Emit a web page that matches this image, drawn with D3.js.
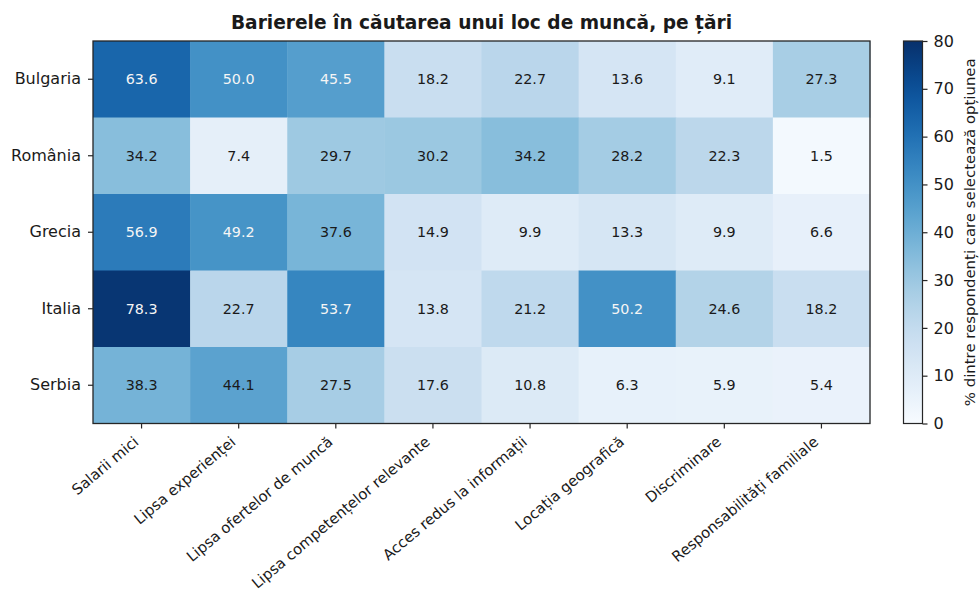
<!DOCTYPE html>
<html>
<head>
<meta charset="utf-8">
<script src="https://cdn.jsdelivr.net/npm/d3@7"></script>
<style>
  body { margin: 0; background: #fff; }
  text { font-family: "DejaVu Sans", sans-serif; fill: #1a1a1a; }
</style>
</head>
<body>
<svg id="chart" width="979" height="591"></svg>
<script>
const countries = ['Bulgaria', 'România', 'Grecia', 'Italia', 'Serbia']
const barriers = [
  'Salarii mici',
  'Lipsa experienței',
  'Lipsa ofertelor de muncă',
  'Lipsa competențelor relevante',
  'Acces redus la informații',
  'Locația geografică',
  'Discriminare',
  'Responsabilități familiale'
]
const bulgaria = [63.6, 50.0, 45.5, 18.2, 22.7, 13.6, 9.1, 27.3]
const romania = [34.2, 7.4, 29.7, 30.2, 34.2, 28.2, 22.3, 1.5]
const grecia = [56.9, 49.2, 37.6, 14.9, 9.9, 13.3, 9.9, 6.6]
const italia = [78.3, 22.7, 53.7, 13.8, 21.2, 50.2, 24.6, 18.2]
const serbia = [38.3, 44.1, 27.5, 17.6, 10.8, 6.3, 5.9, 5.4]
const colorTicks = [0, 10, 20, 30, 40, 50, 60, 70, 80]

const title = 'Barierele în căutarea unui loc de muncă, pe țări'
const cbarLabel = '% dintre respondenți care selectează opțiunea'

const rows = [bulgaria, romania, grecia, italia, serbia]
const cells = []
rows.forEach((vals, i) => {
  vals.forEach((v, j) => {
    cells.push({ country: countries[i], barrier: barriers[j], value: v })
  })
})

const svg = d3.select('#chart')
const plot = { left: 93, right: 870, top: 41, bottom: 423.5 }

const x = d3.scaleBand().domain(barriers).range([plot.left, plot.right])
const y = d3.scaleBand().domain(countries).range([plot.top, plot.bottom])
const color = d3.scaleSequential(d3.interpolateBlues).domain([0, 80])

svg.append('text')
  .attr('x', (plot.left + plot.right) / 2)
  .attr('y', 29)
  .attr('text-anchor', 'middle')
  .style('font-size', '18.6px')
  .style('font-weight', 'bold')
  .text(title)

const g = svg.append('g')
g.selectAll('rect.cell')
  .data(cells)
  .enter()
  .append('rect')
  .attr('class', 'cell')
  .attr('x', d => x(d.barrier))
  .attr('y', d => y(d.country))
  .attr('width', x.bandwidth() + 0.5)
  .attr('height', y.bandwidth() + 0.5)
  .attr('fill', d => color(d.value))

g.selectAll('text.val')
  .data(cells)
  .enter()
  .append('text')
  .attr('class', 'val')
  .attr('x', d => x(d.barrier) + x.bandwidth() / 2)
  .attr('y', d => y(d.country) + y.bandwidth() / 2)
  .attr('dy', '0.36em')
  .attr('text-anchor', 'middle')
  .style('font-size', '14.3px')
  .style('fill', d => d.value > 45 ? '#f5f5f5' : '#1a1a1a')
  .text(d => d.value.toFixed(1))

g.append('rect')
  .attr('x', plot.left)
  .attr('y', plot.top)
  .attr('width', plot.right - plot.left)
  .attr('height', plot.bottom - plot.top)
  .attr('fill', 'none')
  .attr('stroke', '#262626')
  .attr('stroke-width', 1.3)

// x axis
const xAxis = svg.append('g')
  .attr('transform', `translate(0,${plot.bottom})`)
  .call(d3.axisBottom(x).tickSize(5).tickSizeOuter(0).tickPadding(0))
xAxis.select('.domain').remove()
xAxis.selectAll('.tick line').attr('stroke', '#262626').attr('stroke-width', 1.2)
xAxis.selectAll('.tick text')
  .attr('text-anchor', 'end')
  .attr('x', 0)
  .attr('y', 0)
  .attr('dy', 0)
  .attr('transform', 'translate(-2,20) rotate(-40)')
  .style('font-size', '14.8px')
  .style('font-family', '"DejaVu Sans", sans-serif')
  .style('fill', '#1a1a1a')

// y axis
const yAxis = svg.append('g')
  .attr('transform', `translate(${plot.left},0)`)
  .call(d3.axisLeft(y).tickSize(5).tickSizeOuter(0).tickPadding(7))
yAxis.select('.domain').remove()
yAxis.selectAll('.tick line').attr('stroke', '#262626').attr('stroke-width', 1.2)
yAxis.selectAll('.tick text')
  .style('font-size', '16px')
  .style('font-family', '"DejaVu Sans", sans-serif')
  .style('fill', '#1a1a1a')

// colorbar
const cb = { left: 903.5, right: 922.5, top: plot.top, bottom: plot.bottom }
const cy = d3.scaleLinear().domain([0, 80]).range([cb.bottom, cb.top])
const defs = svg.append('defs')
const grad = defs.append('linearGradient')
  .attr('id', 'cbgrad')
  .attr('x1', 0).attr('y1', 1).attr('x2', 0).attr('y2', 0)
d3.range(0, 1.0001, 0.05).forEach(t => {
  grad.append('stop')
    .attr('offset', t)
    .attr('stop-color', color(t * 80))
})
svg.append('rect')
  .attr('x', cb.left)
  .attr('y', cb.top)
  .attr('width', cb.right - cb.left)
  .attr('height', cb.bottom - cb.top)
  .attr('fill', 'url(#cbgrad)')
  .attr('stroke', '#262626')
  .attr('stroke-width', 1.2)

const cAxis = svg.append('g')
  .attr('transform', `translate(${cb.right},0)`)
  .call(d3.axisRight(cy).tickValues(colorTicks).tickSize(5).tickPadding(6))
cAxis.select('.domain').remove()
cAxis.selectAll('.tick line').attr('stroke', '#262626').attr('stroke-width', 1.2)
cAxis.selectAll('.tick text')
  .style('font-size', '16px')
  .style('font-family', '"DejaVu Sans", sans-serif')
  .style('fill', '#1a1a1a')

svg.append('text')
  .attr('transform', `translate(975,${(cb.top + cb.bottom) / 2}) rotate(-90)`)
  .attr('text-anchor', 'middle')
  .style('font-size', '14.9px')
  .text(cbarLabel)
</script>
</body>
</html>
